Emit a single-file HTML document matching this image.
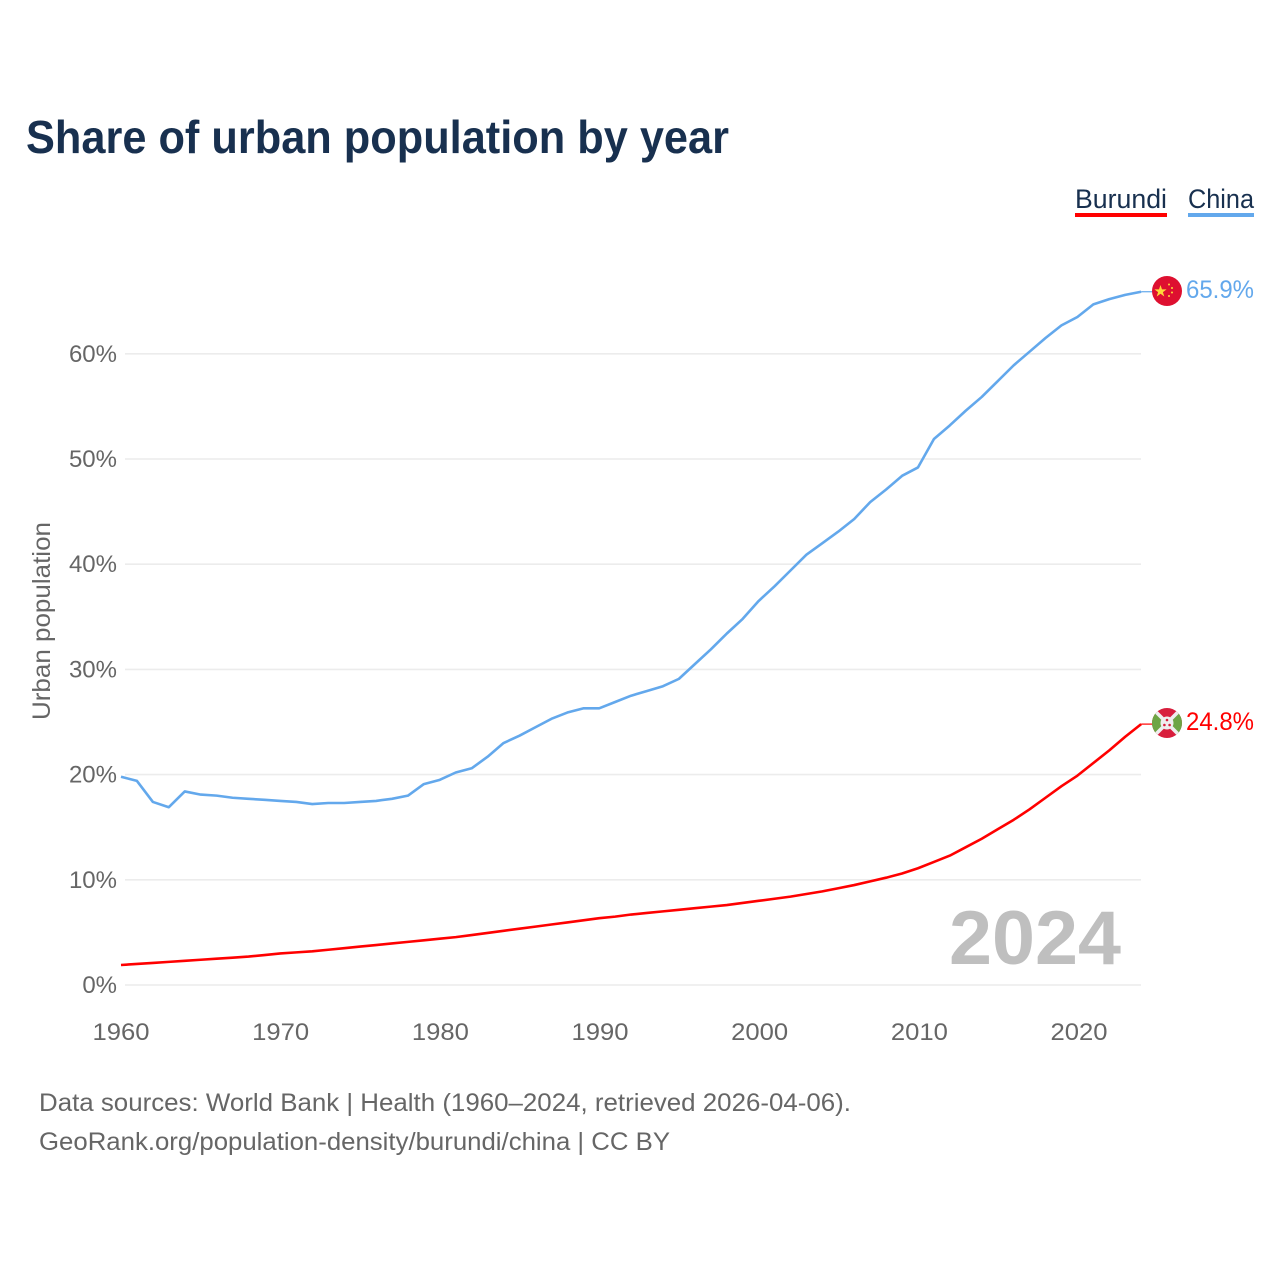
<!DOCTYPE html>
<html lang="en">
<head>
<meta charset="utf-8">
<title>Share of urban population by year</title>
<style>
html,body{margin:0;padding:0;background:#fff;width:1280px;height:1280px;overflow:hidden}
svg{display:block}
text{font-family:"Liberation Sans",sans-serif}
.tick{font-size:24px;fill:#666}
.foot{font-size:25px;fill:#666}
</style>
</head>
<body>
<svg id="chart" xmlns="http://www.w3.org/2000/svg" width="1280" height="1280" viewBox="0 0 1280 1280">
  <defs>
    <clipPath id="clip-cn"><circle cx="1167" cy="291" r="15"/></clipPath>
    <clipPath id="clip-bi"><circle cx="1167" cy="723" r="15"/></clipPath>
  </defs>
  <rect width="1280" height="1280" fill="#fff"/>
  <text x="26" y="153" font-size="46" font-weight="700" fill="#18304f" textLength="703" lengthAdjust="spacingAndGlyphs">Share of urban population by year</text>

  <g>
    <text x="1075" y="208" font-size="27" fill="#18304f" textLength="92" lengthAdjust="spacingAndGlyphs">Burundi</text>
    <rect x="1075" y="213" width="92" height="4" fill="#ff0000"/>
  </g>
  <g>
    <text x="1188" y="208" font-size="27" fill="#18304f" textLength="66" lengthAdjust="spacingAndGlyphs">China</text>
    <rect x="1188" y="213" width="66" height="4" fill="#63a8ec"/>
  </g>

  <g id="grid"></g>
  <g id="yticks"></g>
  <g id="xticks"></g>
  <text transform="translate(50,621) rotate(-90)" text-anchor="middle" font-size="25" fill="#666" textLength="198" lengthAdjust="spacingAndGlyphs">Urban population</text>

  <text x="949" y="964" font-size="76" font-weight="700" fill="#bfbfbf" textLength="172" lengthAdjust="spacingAndGlyphs">2024</text>

  <g id="series"></g>

  <g clip-path="url(#clip-cn)">
    <rect x="1152" y="276" width="30" height="30" fill="#de1030"/>
    <polygon points="1160.5,285 1162,289.4 1166.6,289.4 1162.9,292.1 1164.3,296.5 1160.5,293.8 1156.7,296.5 1158.1,292.1 1154.4,289.4 1159,289.4" fill="#ffd83a"/>
    <circle cx="1169" cy="284.5" r="1" fill="#ffd83a"/>
    <circle cx="1172" cy="288" r="1" fill="#ffd83a"/>
    <circle cx="1172" cy="292.5" r="1" fill="#ffd83a"/>
    <circle cx="1169" cy="296" r="1" fill="#ffd83a"/>
  </g>
  <g clip-path="url(#clip-bi)">
    <rect x="1152" y="708" width="30" height="30" fill="#d81e3c"/>
    <polygon points="1152,708 1167,723 1152,738" fill="#6da544"/>
    <polygon points="1182,708 1167,723 1182,738" fill="#6da544"/>
    <path d="M1152 708L1182 738M1182 708L1152 738" stroke="#eee" stroke-width="3.6"/>
    <circle cx="1167" cy="723" r="6.5" fill="#eee"/>
    <circle cx="1167" cy="720" r="1.3" fill="#d81e3c"/>
    <circle cx="1164.4" cy="725" r="1.3" fill="#d81e3c"/>
    <circle cx="1169.6" cy="725" r="1.3" fill="#d81e3c"/>
  </g>

  <text x="1186" y="298" font-size="25" fill="#63a8ec" textLength="68" lengthAdjust="spacingAndGlyphs">65.9%</text>
  <text x="1186" y="730" font-size="25" fill="#ff0000" textLength="68" lengthAdjust="spacingAndGlyphs">24.8%</text>

  <text class="foot" x="39" y="1111" textLength="812" lengthAdjust="spacingAndGlyphs">Data sources: World Bank | Health (1960–2024, retrieved 2026-04-06).</text>
  <text class="foot" x="39" y="1150" textLength="631" lengthAdjust="spacingAndGlyphs">GeoRank.org/population-density/burundi/china | CC BY</text>
</svg>
<script>
const startYear = 1960;
const chinaValues = [19.8,19.4,17.4,16.9,18.4,18.1,18.0,17.8,17.7,17.6,17.5,17.4,17.2,17.3,17.3,17.4,17.5,17.7,18.0,19.1,19.5,20.2,20.6,21.7,23.0,23.7,24.5,25.3,25.9,26.3,26.3,26.9,27.5,27.95,28.4,29.1,30.5,31.9,33.4,34.8,36.5,37.9,39.4,40.9,42.0,43.1,44.3,45.9,47.1,48.4,49.2,51.9,53.2,54.6,55.9,57.4,58.9,60.2,61.5,62.7,63.5,64.7,65.2,65.6,65.9];
const burundiValues = [1.9,2.0,2.1,2.2,2.3,2.4,2.5,2.6,2.7,2.85,3.0,3.1,3.2,3.35,3.5,3.65,3.8,3.95,4.1,4.25,4.4,4.55,4.75,4.95,5.15,5.35,5.55,5.75,5.95,6.15,6.35,6.5,6.7,6.85,7.0,7.15,7.3,7.45,7.6,7.8,8.0,8.2,8.4,8.65,8.9,9.2,9.5,9.85,10.2,10.6,11.1,11.7,12.3,13.1,13.9,14.8,15.7,16.7,17.8,18.9,19.9,21.1,22.3,23.6,24.8];
const yTickValues = [0,10,20,30,40,50,60];
const xTickValues = [1960,1970,1980,1990,2000,2010,2020];

const NS = 'http://www.w3.org/2000/svg';
function xScale(year){ return 121 + (year - 1960) * 15.94; }
function xLabelPos(year){ return 121 + (year - 1960) * 15.967; }
function yScale(v){ return 985 - v * 10.52; }
function mk(tag, parent){ const el = document.createElementNS(NS, tag); parent.appendChild(el); return el; }

const grid = document.getElementById('grid');
const yticks = document.getElementById('yticks');
const xticks = document.getElementById('xticks');
const series = document.getElementById('series');

yTickValues.forEach(function(v){
  const line = mk('line', grid);
  
  
  line.setAttribute('x1', 125);
  line.setAttribute('x2', 1141);
  line.setAttribute('y1', yScale(v));
  line.setAttribute('y2', yScale(v));
  line.setAttribute('stroke', '#ececec');
  line.setAttribute('stroke-width', 1.6);
  const t = mk('text', yticks);
  
  
  t.setAttribute('class', 'tick');
  t.setAttribute('x', 117);
  t.setAttribute('y', yScale(v) + 8);
  t.setAttribute('text-anchor', 'end');
  t.textContent = v + '%';
});

xTickValues.forEach(function(y){
  const t = mk('text', xticks);
  
  
  t.setAttribute('class', 'tick');
  t.setAttribute('x', xLabelPos(y));
  t.setAttribute('y', 1040);
  t.setAttribute('text-anchor', 'middle');
  t.setAttribute('textLength', 57);
  t.setAttribute('lengthAdjust', 'spacingAndGlyphs');
  t.textContent = y;
});

function drawLine(values, color){
  const d = values.map(function(v, i){
    return (i ? 'L' : 'M') + xScale(startYear + i).toFixed(2) + ' ' + yScale(v).toFixed(2);
  }).join(' ');
  const p = mk('path', series);
  p.setAttribute('d', d);
  p.setAttribute('fill', 'none');
  p.setAttribute('stroke', color);
  p.setAttribute('stroke-width', 2.6);
  p.setAttribute('stroke-linejoin', 'round');
  return p;
}
function drawConnector(values, color){
  const last = values[values.length - 1];
  const c = mk('line', series);
  c.setAttribute('x1', xScale(startYear + values.length - 1));
  c.setAttribute('x2', 1153);
  c.setAttribute('y1', yScale(last));
  c.setAttribute('y2', yScale(last));
  c.setAttribute('stroke', color);
  c.setAttribute('stroke-width', 1.2);
  return c;
}
const chinaLine = drawLine(chinaValues, '#63a8ec');


const burundiLine = drawLine(burundiValues, '#ff0000');


const chinaConnector = drawConnector(chinaValues, '#63a8ec');


const burundiConnector = drawConnector(burundiValues, '#ff0000');


</script>
</body>
</html>
